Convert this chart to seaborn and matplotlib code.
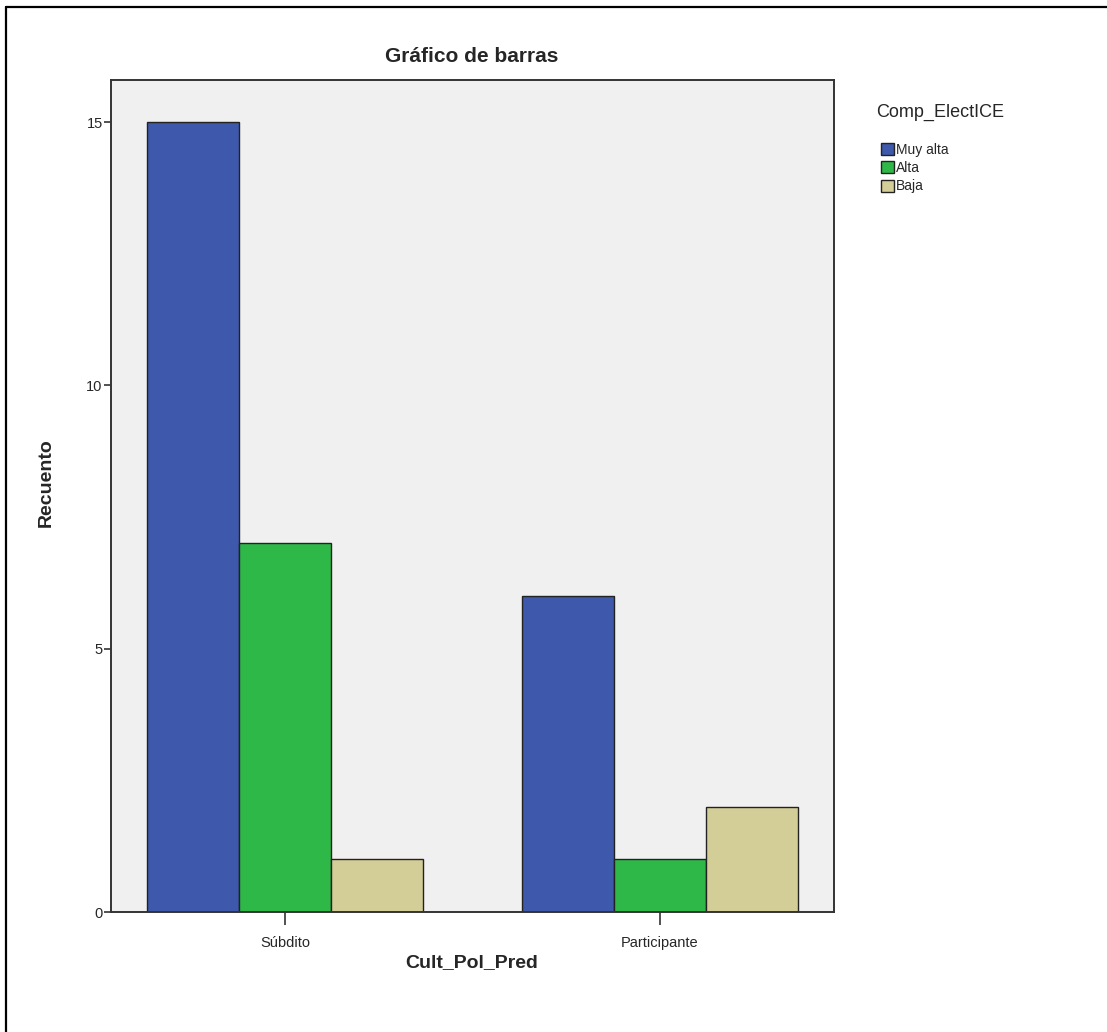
import pandas as pd
import numpy as np
import matplotlib
matplotlib.use('Agg')
import matplotlib.pyplot as plt
import seaborn as sns
from matplotlib.patches import Patch
from matplotlib.lines import Line2D

# Data
categories = ['Súbdito', 'Participante']
levels = ['Muy alta', 'Alta', 'Baja']
muy_alta = [15, 6]
alta = [7, 1]
baja = [1, 2]
colors = ['#3e58ac', '#2eb848', '#d3ce98']
yticks = [0, 5, 10, 15]

counts = {'Muy alta': muy_alta, 'Alta': alta, 'Baja': baja}
rows = []
for lvl in levels:
    for cat, val in zip(categories, counts[lvl]):
        rows.append({'Cult_Pol_Pred': cat, 'Comp_ElectICE': lvl, 'Recuento': val})
df = pd.DataFrame(rows)

sns.set_style('white')
plt.rcParams['font.family'] = ['Liberation Sans Narrow', 'Liberation Sans', 'DejaVu Sans']

W, H = 1107, 1032
fig = plt.figure(figsize=(W / 100, H / 100), dpi=100)
ax = fig.add_axes([111 / W, 1 - 912 / H, (834 - 111) / W, (912 - 80) / H])

sns.barplot(data=df, x='Cult_Pol_Pred', y='Recuento', hue='Comp_ElectICE',
            order=categories, hue_order=levels, palette=colors, saturation=1,
            width=0.736, edgecolor='#222222', linewidth=1.0, legend=False, ax=ax)

ax.set_facecolor('#f0f0f0')
ax.set_xlim(-0.464, 1.464)
ax.set_ylim(0, 15.8)
ax.set_yticks(yticks)
for s in ax.spines.values():
    s.set_color('#333333')
    s.set_linewidth(1.4)
ax.tick_params(axis='y', direction='out', length=5, width=1.2, color='#333333',
               labelsize=10.5, pad=1, left=True)
ax.tick_params(axis='x', direction='out', length=9, width=1.2, color='#333333',
               labelsize=10.5, pad=8, bottom=True)
ax.set_xlabel('')
ax.set_ylabel('')

# titles and axis labels
fig.text(472 / W, 1 - 57 / H, 'Gráfico de barras', ha='center', va='center',
         fontsize=15, fontweight='bold')
fig.text(472 / W, 1 - 963 / H, 'Cult_Pol_Pred', ha='center', va='center',
         fontsize=14, fontweight='bold')
fig.text(46 / W, 1 - 483 / H, 'Recuento', ha='center', va='center', rotation=90,
         fontsize=14, fontweight='bold')

# legend outside the plot, title drawn separately like SPSS
fig.text(876 / W, 1 - 112 / H, 'Comp_ElectICE', ha='left', va='center', fontsize=13)
handles = [Patch(facecolor=c, edgecolor='#222222', linewidth=1.0) for c in colors]
fig.legend(handles, levels, loc='upper left',
           bbox_to_anchor=(881 / W, 1 - 143 / H), frameon=False,
           fontsize=10, handlelength=0.95, handleheight=0.95,
           handletextpad=0.15, labelspacing=0.3, borderpad=0, borderaxespad=0)

# outer frame (top and left edges visible)
fig.add_artist(Line2D([6 / W, 1], [1 - 7 / H, 1 - 7 / H], color='black', linewidth=1.6,
                      transform=fig.transFigure))
fig.add_artist(Line2D([6 / W, 6 / W], [0, 1 - 7 / H], color='black', linewidth=1.6,
                      transform=fig.transFigure))

fig.savefig('out.png', dpi=100)
